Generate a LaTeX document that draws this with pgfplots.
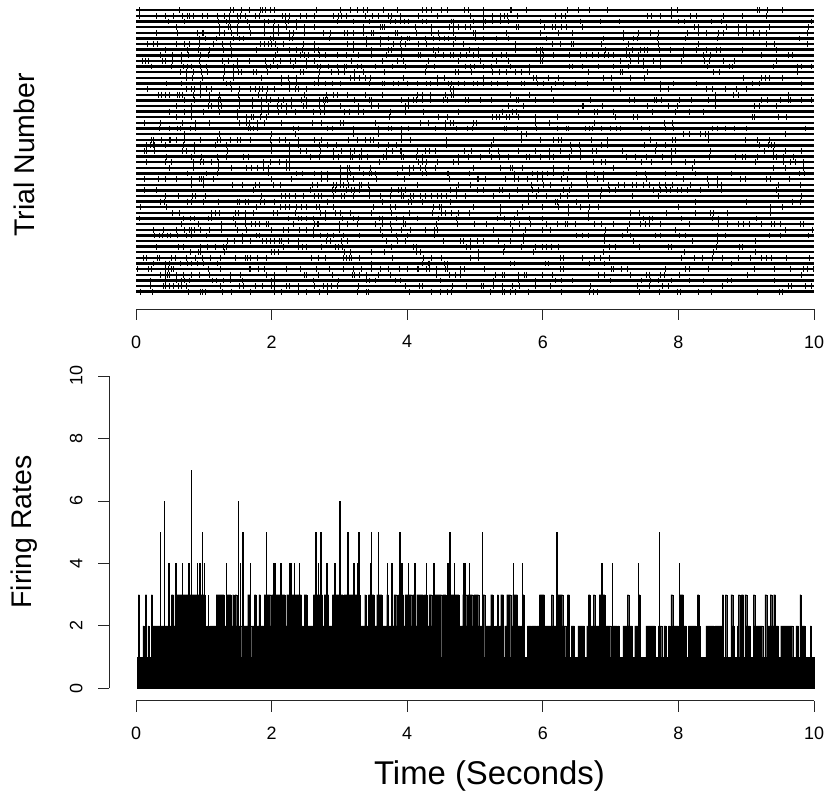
\documentclass[border=0pt]{standalone}
\usepackage{fontspec}
\setmainfont{Liberation Sans}
\usepackage{pgfplots}
\pgfplotsset{compat=1.18}
\pgfplotsset{
  every non boxed x axis/.style={},
  every non boxed y axis/.style={},
  rstyle/.style={
    scale only axis, clip=false, width=678bp,
    xmin=0, xmax=10, xtick={0,2,4,6,8,10},
    axis line style={-, line width=0.8bp, black!85},
    every tick/.style={black!85, line width=0.8bp},
    tick align=outside, major tick length=11bp,
    tick label style={font=\fontsize{18}{18}\selectfont},
    /pgf/number format/assume math mode=true,
    xtick pos=bottom, ytick pos=left,
  },
  sp/.style={only marks, mark=|, mark size=2.9bp, black, mark options={line width=1bp, black}},
}
\begin{document}
\begin{tikzpicture}
\path[use as bounding box] (0,0) rectangle (825bp,794bp);
\begin{axis}[rstyle, at={(136bp,502.3bp)}, anchor=south west, height=281.4bp,
  ymin=1, ymax=51, axis x line=bottom, axis y line=none, axis x line shift=17.3bp,
  xticklabel style={yshift=-12bp}]
\pgfplotsinvokeforeach{1,...,51}{\addplot[black, line width=2.4bp, forget plot] coordinates {(0,#1)(10,#1)};}
\addplot[sp] coordinates {(.05,51)(.64,51)(1.40,51)(1.44,51)(1.55,51)(1.68,51)(1.83,51)(1.86,51)(1.91,51)(1.98,51)(2.04,51)(2.66,51)(3.01,51)(3.16,51)(3.17,51)(3.27,51)(3.36,51)(3.41,51)(3.65,51)(3.85,51)(4.22,51)(4.29,51)(4.36,51)(4.51,51)(4.59,51)(4.85,51)(4.91,51)(5.12,51)(5.52,51)(5.54,51)(5.76,51)(6.36,51)(6.53,51)(6.69,51)(6.95,51)(7.90,51)(7.98,51)(9.16,51)(9.20,51)(9.31,51)(9.53,51)};
\addplot[sp] coordinates {(.05,50)(.30,50)(.43,50)(.55,50)(.69,50)(.76,50)(.79,50)(.85,50)(.98,50)(1.05,50)(1.20,50)(1.31,50)(1.38,50)(1.49,50)(1.54,50)(1.61,50)(1.76,50)(1.82,50)(2.16,50)(2.21,50)(2.26,50)(2.42,50)(2.51,50)(2.63,50)(2.92,50)(2.98,50)(3.03,50)(3.10,50)(3.38,50)(3.49,50)(3.58,50)(3.73,50)(3.77,50)(3.90,50)(4.17,50)(4.44,50)(4.93,50)(5.12,50)(5.26,50)(5.37,50)(5.43,50)(5.48,50)(5.62,50)(6.18,50)(6.27,50)(6.33,50)(7.55,50)(7.61,50)(7.73,50)(7.90,50)(8.18,50)(8.27,50)(8.66,50)(8.94,50)(9.30,50)};
\addplot[sp] coordinates {(.48,49)(.72,49)(1.21,49)(1.34,49)(1.38,49)(1.51,49)(1.64,49)(1.90,49)(1.95,49)(2.04,49)(2.20,49)(2.25,49)(2.37,49)(2.97,49)(3.21,49)(3.44,49)(3.75,49)(3.82,49)(3.90,49)(3.96,49)(4.02,49)(4.22,49)(4.29,49)(4.66,49)(4.68,49)(4.98,49)(5.12,49)(5.15,49)(5.26,49)(5.38,49)(5.49,49)(5.96,49)(6.55,49)(6.85,49)(7.13,49)(8.00,49)(8.09,49)(8.49,49)(8.63,49)(9.96,49)};
\addplot[sp] coordinates {(.59,48)(1.23,48)(1.36,48)(1.40,48)(1.50,48)(1.68,48)(1.90,48)(2.03,48)(2.10,48)(2.22,48)(2.36,48)(2.49,48)(2.64,48)(3.35,48)(3.60,48)(3.64,48)(3.67,48)(4.12,48)(4.36,48)(4.62,48)(4.68,48)(4.76,48)(4.86,48)(4.93,48)(5.12,48)(5.61,48)(5.64,48)(6.03,48)(6.15,48)(6.18,48)(6.28,48)(6.35,48)(6.58,48)(8.23,48)(8.30,48)(8.71,48)(8.89,48)(9.00,48)(9.35,48)(9.92,48)};
\addplot[sp] coordinates {(.30,47)(.61,47)(.90,47)(.98,47)(1.00,47)(1.23,47)(1.31,47)(1.41,47)(1.50,47)(1.69,47)(1.89,47)(2.03,47)(2.10,47)(2.26,47)(2.32,47)(2.49,47)(2.77,47)(2.87,47)(3.08,47)(3.12,47)(3.21,47)(3.35,47)(3.48,47)(3.50,47)(3.82,47)(3.86,47)(4.14,47)(4.36,47)(4.46,47)(4.68,47)(4.98,47)(5.00,47)(5.47,47)(5.96,47)(6.23,47)(6.44,47)(7.19,47)(7.41,47)(7.59,47)(7.71,47)(8.13,47)(8.30,47)(8.42,47)(8.59,47)(8.67,47)(8.89,47)(9.01,47)(9.11,47)(9.20,47)(9.30,47)(9.90,47)};
\addplot[sp] coordinates {(.94,46)(1.02,46)(1.18,46)(1.44,46)(1.53,46)(1.58,46)(1.98,46)(2.03,46)(2.26,46)(2.31,46)(2.85,46)(3.40,46)(3.60,46)(3.73,46)(3.92,46)(4.00,46)(4.03,46)(4.27,46)(4.39,46)(4.48,46)(4.55,46)(4.61,46)(4.71,46)(5.00,46)(5.12,46)(5.32,46)(5.49,46)(6.06,46)(6.90,46)(7.19,46)(7.34,46)(7.39,46)(7.69,46)(8.10,46)(8.57,46)(9.79,46)};
\addplot[sp] coordinates {(.17,45)(.26,45)(.32,45)(.60,45)(.71,45)(.79,45)(.94,45)(1.14,45)(1.27,45)(1.39,45)(1.84,45)(1.90,45)(1.95,45)(2.00,45)(2.06,45)(2.17,45)(2.47,45)(2.63,45)(3.12,45)(3.21,45)(3.40,45)(3.60,45)(3.80,45)(3.90,45)(3.97,45)(4.17,45)(4.29,45)(4.69,45)(4.83,45)(5.59,45)(6.15,45)(6.26,45)(6.43,45)(6.46,45)(6.86,45)(7.27,45)(7.71,45)(8.30,45)(9.30,45)(9.41,45)(9.90,45)};
\addplot[sp] coordinates {(.44,44)(.76,44)(.92,44)(1.09,44)(1.29,44)(1.41,44)(1.77,44)(2.08,44)(2.27,44)(2.36,44)(2.46,44)(2.64,44)(2.69,44)(3.21,44)(3.48,44)(3.73,44)(3.77,44)(3.92,44)(4.39,44)(4.46,44)(4.92,44)(5.05,44)(5.59,44)(5.91,44)(5.96,44)(6.00,44)(6.92,44)(7.24,44)(7.32,44)(7.44,44)(7.50,44)(7.55,44)(7.72,44)(7.88,44)(8.08,44)(8.27,44)(8.42,44)(8.56,44)(8.62,44)(8.94,44)(9.45,44)};
\addplot[sp] coordinates {(.36,43)(.54,43)(.67,43)(.77,43)(.95,43)(1.07,43)(1.41,43)(2.06,43)(2.42,43)(2.49,43)(2.54,43)(2.71,43)(2.79,43)(2.97,43)(3.10,43)(3.28,43)(3.48,43)(3.70,43)(3.92,43)(4.17,43)(4.20,43)(4.41,43)(4.53,43)(4.64,43)(4.69,43)(4.78,43)(4.88,43)(4.98,43)(5.05,43)(5.26,43)(5.39,43)(5.47,43)(5.96,43)(6.01,43)(6.16,43)(6.40,43)(6.56,43)(6.65,43)(6.74,43)(6.82,43)(6.91,43)(6.97,43)(7.04,43)(7.23,43)(7.28,43)(7.41,43)(8.07,43)(8.37,43)(8.47,43)(9.23,43)(9.63,43)(9.69,43)};
\addplot[sp] coordinates {(.10,42)(.14,42)(.19,42)(.39,42)(.43,42)(.54,42)(.67,42)(.94,42)(1.28,42)(1.37,42)(1.50,42)(1.68,42)(1.91,42)(2.03,42)(2.13,42)(2.28,42)(2.35,42)(2.52,42)(2.64,42)(3.18,42)(3.63,42)(3.86,42)(3.95,42)(4.31,42)(4.76,42)(5.08,42)(5.31,42)(5.49,42)(5.96,42)(6.00,42)(7.15,42)(7.29,42)(7.41,42)(7.49,42)(7.63,42)(7.73,42)(8.05,42)(8.38,42)(8.46,42)(8.67,42)(8.82,42)(9.45,42)};
\addplot[sp] coordinates {(.23,41)(.53,41)(.70,41)(.76,41)(.82,41)(.95,41)(1.04,41)(1.31,41)(1.44,41)(1.50,41)(1.92,41)(1.98,41)(2.08,41)(2.32,41)(2.52,41)(2.67,41)(2.72,41)(2.84,41)(2.97,41)(3.08,41)(3.11,41)(3.26,41)(3.32,41)(3.53,41)(3.79,41)(3.97,41)(4.29,41)(4.40,41)(4.86,41)(4.93,41)(4.99,41)(5.12,41)(5.25,41)(5.52,41)(5.81,41)(6.40,41)(6.44,41)(6.59,41)(6.82,41)(7.05,41)(7.27,41)(7.49,41)(7.73,41)(8.43,41)(8.76,41)(8.80,41)(9.40,41)(9.75,41)(9.81,41)(9.97,41)};
\addplot[sp] coordinates {(.65,40)(.75,40)(.85,40)(.97,40)(1.05,40)(1.30,40)(1.44,40)(1.51,40)(1.56,40)(1.74,40)(1.78,40)(1.94,40)(2.42,40)(2.47,40)(2.71,40)(2.89,40)(2.99,40)(3.08,40)(3.23,40)(3.35,40)(3.66,40)(4.27,40)(4.71,40)(4.76,40)(4.95,40)(5.26,40)(5.36,40)(5.47,40)(5.59,40)(5.69,40)(5.81,40)(6.67,40)(7.14,40)(7.18,40)(7.54,40)(8.52,40)(8.61,40)(9.75,40)};
\addplot[sp] coordinates {(.74,39)(.84,39)(.98,39)(1.29,39)(1.44,39)(1.85,39)(2.15,39)(2.25,39)(2.37,39)(2.69,39)(3.17,39)(3.22,39)(3.30,39)(3.38,39)(3.46,39)(3.95,39)(4.44,39)(4.55,39)(5.12,39)(5.86,39)(5.91,39)(6.08,39)(6.23,39)(6.90,39)(7.02,39)(7.29,39)(7.50,39)(8.96,39)(9.23,39)(9.28,39)(9.35,39)(9.53,39)};
\addplot[sp] coordinates {(.45,38)(.67,38)(.95,38)(1.33,38)(1.39,38)(2.15,38)(2.27,38)(2.37,38)(2.64,38)(2.69,38)(2.79,38)(2.90,38)(3.01,38)(3.44,38)(3.63,38)(3.66,38)(3.80,38)(3.87,38)(4.00,38)(4.15,38)(4.29,38)(4.35,38)(4.44,38)(4.61,38)(4.66,38)(4.76,38)(4.84,38)(4.98,38)(5.04,38)(5.12,38)(5.25,38)(5.33,38)(5.48,38)(5.68,38)(5.73,38)(5.92,38)(6.01,38)(6.18,38)(6.30,38)(6.48,38)(6.66,38)(7.73,38)(7.93,38)(8.27,38)(9.09,38)(9.20,38)(9.81,38)};
\addplot[sp] coordinates {(.17,37)(.75,37)(.82,37)(.87,37)(.95,37)(1.04,37)(1.11,37)(1.41,37)(1.53,37)(1.69,37)(1.76,37)(1.82,37)(1.86,37)(1.94,37)(2.04,37)(2.27,37)(2.35,37)(2.40,37)(2.52,37)(4.64,37)(4.68,37)(6.13,37)(7.04,37)(7.15,37)(7.73,37)(7.86,37)(8.42,37)(8.50,37)(8.69,37)(8.86,37)(9.00,37)};
\addplot[sp] coordinates {(.33,36)(.38,36)(.43,36)(.50,36)(.61,36)(.64,36)(.69,36)(.85,36)(.95,36)(1.08,36)(1.23,36)(1.51,36)(1.80,36)(1.93,36)(2.49,36)(2.81,36)(2.92,36)(2.97,36)(3.12,36)(3.38,36)(3.63,36)(4.15,36)(4.23,36)(4.35,36)(4.56,36)(4.66,36)(4.68,36)(5.52,36)(5.81,36)(8.54,36)(8.81,36)(8.89,36)(9.62,36)};
\addplot[sp] coordinates {(.71,35)(.86,35)(1.09,35)(1.22,35)(1.25,35)(1.53,35)(1.72,35)(1.85,35)(1.93,35)(1.98,35)(2.10,35)(2.17,35)(2.30,35)(2.44,35)(2.52,35)(2.71,35)(2.76,35)(2.79,35)(2.82,35)(3.23,35)(3.44,35)(3.48,35)(3.92,35)(4.02,35)(4.09,35)(4.14,35)(4.23,35)(4.35,35)(4.54,35)(4.60,35)(4.86,35)(4.91,35)(5.08,35)(5.25,35)(5.61,35)(5.64,35)(5.89,35)(6.16,35)(6.71,35)(7.28,35)(7.35,35)(7.65,35)(7.67,35)(7.75,35)(8.02,35)(8.20,35)(8.44,35)(8.54,35)(9.22,35)(9.31,35)(9.50,35)(9.63,35)(9.66,35)(9.81,35)(9.97,35)};
\addplot[sp] coordinates {(.60,34)(.82,34)(1.07,34)(1.12,34)(1.22,34)(1.26,34)(1.53,34)(1.72,34)(1.85,34)(1.95,34)(2.08,34)(2.15,34)(2.22,34)(2.30,34)(2.47,34)(2.52,34)(2.71,34)(2.78,34)(3.01,34)(3.28,34)(3.48,34)(3.58,34)(3.97,34)(4.02,34)(5.49,34)(5.71,34)(6.58,34)(6.60,34)(6.88,34)(7.55,34)(7.86,34)(7.99,34)(8.54,34)(9.12,34)(9.19,34)(9.45,34)};
\addplot[sp] coordinates {(.49,33)(.72,33)(.82,33)(.99,33)(1.23,33)(1.50,33)(1.85,33)(1.95,33)(2.10,33)(2.22,33)(2.35,33)(2.62,33)(2.72,33)(2.78,33)(3.08,33)(3.15,33)(3.28,33)(3.35,33)(3.76,33)(3.98,33)(4.24,33)(4.76,33)(5.40,33)(5.55,33)(5.61,33)(6.53,33)(6.76,33)(6.81,33)(7.04,33)(7.62,33)(7.95,33)(8.17,33)(8.37,33)};
\addplot[sp] coordinates {(.60,32)(.82,32)(1.49,32)(1.63,32)(1.71,32)(1.73,32)(1.83,32)(1.93,32)(3.74,32)(4.46,32)(4.59,32)(5.26,32)(5.31,32)(5.36,32)(5.47,32)(5.51,32)(5.64,32)(5.89,32)(6.22,32)(7.07,32)(7.34,32)(7.39,32)(9.09,32)(9.12,32)(9.48,32)(9.59,32)};
\addplot[sp] coordinates {(.12,31)(.36,31)(.68,31)(.88,31)(1.08,31)(1.53,31)(1.63,31)(1.68,31)(1.79,31)(1.90,31)(2.15,31)(2.61,31)(2.74,31)(3.01,31)(3.06,31)(3.53,31)(4.19,31)(4.31,31)(4.56,31)(4.64,31)(4.68,31)(4.98,31)(5.02,31)(5.89,31)(6.10,31)(6.76,31)(7.79,31)(7.92,31)};
\addplot[sp] coordinates {(.34,30)(.49,30)(.61,30)(.65,30)(.81,30)(.88,30)(1.66,30)(1.69,30)(1.74,30)(1.79,30)(2.32,30)(2.40,30)(2.82,30)(2.90,30)(3.21,30)(3.58,30)(3.73,30)(3.77,30)(3.91,30)(4.02,30)(4.41,30)(4.56,30)(4.73,30)(4.89,30)(4.97,30)(5.43,30)(5.47,30)(5.62,30)(5.90,30)(6.21,30)(6.35,30)(6.38,30)(6.63,30)(6.69,30)(6.74,30)(6.86,30)(7.00,30)(7.08,30)(7.15,30)(7.46,30)(7.58,30)(7.81,30)(7.93,30)(8.50,30)(8.58,30)(8.70,30)(8.83,30)(9.01,30)(9.87,30)};
\addplot[sp] coordinates {(.72,29)(1.23,29)(2.00,29)(2.35,29)(3.21,29)(3.58,29)(3.92,29)(5.69,29)(5.76,29)(8.07,29)(8.16,29)(8.33,29)(8.40,29)(8.45,29)(9.58,29)};
\addplot[sp] coordinates {(.23,28)(.26,28)(.38,28)(.49,28)(.51,28)(.59,28)(.72,28)(.95,28)(1.20,28)(1.25,28)(1.40,28)(1.50,28)(1.54,28)(1.69,28)(1.98,28)(2.12,28)(2.20,28)(2.40,28)(2.64,28)(2.74,28)(3.13,28)(3.27,28)(3.38,28)(3.46,28)(3.51,28)(3.92,28)(4.05,28)(4.58,28)(5.28,28)(5.68,28)(5.69,28)(5.96,28)(6.16,28)(6.23,28)(6.28,28)(6.72,28)(6.95,28)(7.59,28)(7.92,28)(7.95,28)(8.45,28)(8.99,28)(9.16,28)(9.35,28)};
\addplot[sp] coordinates {(.15,27)(.22,27)(.26,27)(.28,27)(.43,27)(.70,27)(.86,27)(1.17,27)(1.34,27)(2.00,27)(2.26,27)(2.40,27)(2.71,27)(2.82,27)(2.95,27)(3.58,27)(3.73,27)(3.84,27)(4.58,27)(5.25,27)(6.41,27)(6.54,27)(6.87,27)(6.95,27)(7.50,27)(7.67,27)(7.81,27)(9.19,27)(9.33,27)(9.37,27)(9.41,27)};
\addplot[sp] coordinates {(.12,26)(.15,26)(.27,26)(.69,26)(.74,26)(.86,26)(1.35,26)(2.00,26)(2.26,26)(2.42,26)(2.51,26)(2.72,26)(2.92,26)(3.03,26)(3.16,26)(3.23,26)(3.33,26)(3.70,26)(3.79,26)(3.90,26)(3.92,26)(4.15,26)(4.27,26)(4.33,26)(4.41,26)(4.84,26)(4.95,26)(5.22,26)(5.35,26)(5.64,26)(5.89,26)(6.10,26)(6.26,26)(6.43,26)(6.56,26)(6.74,26)(6.79,26)(7.18,26)(7.66,26)(7.90,26)(7.95,26)(8.48,26)(9.27,26)(9.40,26)(9.58,26)(9.81,26)};
\addplot[sp] coordinates {(.45,25)(.82,25)(.97,25)(1.20,25)(1.34,25)(1.58,25)(1.66,25)(2.26,25)(2.57,25)(2.71,25)(2.92,25)(2.98,25)(3.16,25)(3.20,25)(3.30,25)(3.33,25)(3.41,25)(3.65,25)(3.70,25)(3.91,25)(3.94,25)(4.14,25)(4.22,25)(4.76,25)(4.91,25)(5.08,25)(5.25,25)(5.36,25)(5.49,25)(5.76,25)(5.81,25)(5.96,25)(6.10,25)(6.16,25)(6.40,25)(6.55,25)(7.23,25)(7.36,25)(7.53,25)(7.76,25)(7.90,25)(8.46,25)(8.84,25)(8.94,25)(8.99,25)(9.16,25)(9.40,25)(9.45,25)(9.55,25)(9.70,25)};
\addplot[sp] coordinates {(.16,24)(.44,24)(.53,24)(.85,24)(.95,24)(.99,24)(1.12,24)(1.22,24)(1.88,24)(1.98,24)(2.11,24)(2.22,24)(2.26,24)(3.59,24)(4.17,24)(4.22,24)(4.28,24)(4.44,24)(4.68,24)(4.76,24)(6.75,24)(6.87,24)(6.93,24)(7.46,24)(7.61,24)(7.90,24)(8.10,24)(8.23,24)(9.13,24)(9.55,24)(9.65,24)(9.72,24)(9.84,24)};
\addplot[sp] coordinates {(.49,23)(.85,23)(1.22,23)(1.41,23)(1.63,23)(1.71,23)(1.79,23)(1.88,23)(1.95,23)(2.22,23)(2.27,23)(3.02,23)(3.12,23)(3.15,23)(3.30,23)(3.46,23)(3.93,23)(4.03,23)(4.10,23)(4.19,23)(4.27,23)(4.41,23)(4.98,23)(5.37,23)(5.52,23)(5.56,23)(5.70,23)(6.16,23)(6.38,23)(7.04,23)(8.21,23)(9.40,23)(9.58,23)(9.85,23)};
\addplot[sp] coordinates {(.76,22)(1.04,22)(1.20,22)(1.95,22)(2.37,22)(2.46,22)(2.63,22)(2.73,22)(2.82,22)(3.01,22)(3.12,22)(3.17,22)(3.35,22)(3.44,22)(3.48,22)(3.53,22)(3.86,22)(4.03,22)(4.22,22)(4.28,22)(4.59,22)(4.61,22)(4.92,22)(5.58,22)(5.85,22)(5.92,22)(5.99,22)(6.07,22)(6.16,22)(6.30,22)(6.64,22)(6.76,22)(6.89,22)(7.38,22)(7.51,22)(7.81,22)(7.97,22)(8.25,22)(8.78,22)(9.78,22)(9.86,22)};
\addplot[sp] coordinates {(.12,21)(.33,21)(.43,21)(.59,21)(.82,21)(.93,21)(.97,21)(1.00,21)(1.15,21)(2.00,21)(2.30,21)(2.73,21)(2.82,21)(3.02,21)(3.12,21)(3.21,21)(3.55,21)(3.96,21)(4.62,21)(5.03,21)(5.05,21)(5.15,21)(5.45,21)(5.58,21)(5.64,21)(5.77,21)(5.92,21)(6.00,21)(6.28,21)(6.36,21)(6.65,21)(6.80,21)(6.89,21)(7.53,21)(8.07,21)(8.43,21)(8.57,21)(8.91,21)(8.99,21)(9.30,21)(9.36,21)(9.64,21)};
\addplot[sp] coordinates {(.82,20)(1.00,20)(1.43,20)(1.57,20)(1.76,20)(1.82,20)(2.03,20)(2.13,20)(2.61,20)(2.68,20)(2.92,20)(2.95,20)(3.02,20)(3.06,20)(3.13,20)(3.30,20)(3.33,20)(3.43,20)(4.15,20)(4.76,20)(4.93,20)(5.84,20)(6.01,20)(6.12,20)(6.43,20)(6.66,20)(6.97,20)(7.12,20)(7.21,20)(7.33,20)(7.38,20)(7.48,20)(7.58,20)(7.72,20)(7.81,20)(7.92,20)(8.18,20)(8.45,20)(8.57,20)(8.64,20)(9.48,20)(9.80,20)};
\addplot[sp] coordinates {(.12,19)(.30,19)(1.74,19)(2.58,19)(2.90,19)(2.94,19)(3.11,19)(3.18,19)(3.23,19)(3.30,19)(3.45,19)(3.77,19)(3.87,19)(3.91,19)(3.97,19)(4.64,19)(4.72,19)(5.03,19)(5.12,19)(5.36,19)(5.41,19)(5.62,19)(5.85,19)(5.94,19)(6.31,19)(6.40,19)(6.86,19)(6.98,19)(7.07,19)(7.64,19)(7.73,19)(7.83,19)(7.88,19)(7.98,19)(8.04,19)(8.13,19)(8.33,19)(8.64,19)(9.44,19)};
\addplot[sp] coordinates {(.43,18)(.62,18)(.84,18)(.88,18)(1.02,18)(1.85,18)(2.14,18)(2.20,18)(2.27,18)(2.35,18)(2.47,18)(2.63,18)(2.69,18)(2.74,18)(2.92,18)(3.03,18)(3.08,18)(3.21,18)(3.44,18)(3.61,18)(3.75,18)(3.91,18)(3.95,18)(4.05,18)(4.09,18)(4.19,18)(4.27,18)(4.36,18)(4.44,18)(4.50,18)(4.58,18)(4.73,18)(4.86,18)(5.28,18)(5.51,18)(5.79,18)(5.90,18)(6.06,18)(6.26,18)(6.36,18)(6.67,18)(6.85,18)(7.32,18)(7.71,18)(9.48,18)(9.81,18)};
\addplot[sp] coordinates {(.36,17)(.42,17)(.76,17)(.82,17)(.99,17)(1.22,17)(1.49,17)(1.53,17)(1.61,17)(1.66,17)(1.83,17)(1.90,17)(2.04,17)(2.82,17)(3.63,17)(4.02,17)(4.07,17)(4.23,17)(4.64,17)(5.79,17)(6.18,17)(6.22,17)(6.50,17)(8.25,17)(9.00,17)(9.68,17)(9.80,17)};
\addplot[sp] coordinates {(.07,16)(.45,16)(1.78,16)(2.13,16)(2.20,16)(2.26,16)(2.37,16)(2.44,16)(2.52,16)(2.66,16)(2.71,16)(2.92,16)(3.50,16)(3.76,16)(3.82,16)(4.39,16)(4.48,16)(4.51,16)(4.98,16)(5.37,16)(5.70,16)(5.99,16)(6.23,16)(6.38,16)(6.55,16)(6.69,16)(6.82,16)(8.00,16)(9.36,16)(9.53,16)};
\addplot[sp] coordinates {(.54,15)(.64,15)(1.12,15)(1.17,15)(1.23,15)(1.47,15)(1.51,15)(1.62,15)(1.74,15)(2.03,15)(2.09,15)(2.35,15)(2.72,15)(2.79,15)(2.94,15)(3.01,15)(3.17,15)(3.48,15)(3.77,15)(4.03,15)(4.38,15)(4.51,15)(4.56,15)(4.66,15)(4.76,15)(4.92,15)(5.38,15)(5.63,15)(6.38,15)(6.67,15)(7.29,15)(7.43,15)(7.83,15)(8.25,15)(8.48,15)(8.52,15)(8.72,15)(9.36,15)};
\addplot[sp] coordinates {(.05,14)(.70,14)(.80,14)(.86,14)(1.07,14)(1.12,14)(1.44,14)(1.61,14)(2.25,14)(2.40,14)(2.44,14)(2.51,14)(2.62,14)(2.80,14)(3.05,14)(3.21,14)(3.28,14)(3.59,14)(3.64,14)(3.84,14)(3.94,14)(4.15,14)(4.46,14)(4.72,14)(5.33,14)(5.43,14)(5.58,14)(5.81,14)(5.99,14)(6.67,14)(7.48,14)(7.58,14)(7.62,14)(8.04,14)(8.51,14)(8.59,14)(9.15,14)};
\addplot[sp] coordinates {(.67,13)(.92,13)(1.26,13)(1.47,13)(1.61,13)(1.71,13)(1.76,13)(1.82,13)(1.92,13)(1.95,13)(2.32,13)(2.64,13)(2.67,13)(2.69,13)(3.00,13)(3.12,13)(3.27,13)(3.53,13)(3.63,13)(3.76,13)(3.95,13)(3.98,13)(4.43,13)(4.74,13)(4.99,13)(5.17,13)(5.53,13)(5.65,13)(5.82,13)(6.06,13)(6.22,13)(6.33,13)(6.36,13)(6.48,13)(6.76,13)(6.87,13)(7.05,13)(7.28,13)(7.44,13)(7.51,13)(7.58,13)(7.74,13)(8.17,13)(8.59,13)(8.72,13)(8.89,13)(8.96,13)(9.05,13)(9.23,13)(9.37,13)(9.41,13)(9.51,13)(9.80,13)(9.85,13)};
\addplot[sp] coordinates {(.26,12)(.40,12)(.59,12)(.72,12)(.79,12)(.82,12)(.87,12)(.95,12)(1.09,12)(1.26,12)(1.49,12)(1.63,12)(2.00,12)(2.18,12)(2.25,12)(2.41,12)(2.52,12)(2.62,12)(3.00,12)(3.60,12)(3.77,12)(3.92,12)(4.05,12)(4.27,12)(4.40,12)(4.45,12)(5.27,12)(5.56,12)(5.74,12)(6.00,12)(6.12,12)(6.92,12)(7.25,12)(7.95,12)(9.58,12)(9.98,12)};
\addplot[sp] coordinates {(.28,11)(.35,11)(.39,11)(.46,11)(.51,11)(.61,11)(.75,11)(.82,11)(1.04,11)(1.57,11)(1.77,11)(1.82,11)(2.62,11)(2.72,11)(2.82,11)(2.91,11)(3.06,11)(3.30,11)(3.63,11)(3.84,11)(4.00,11)(4.40,11)(5.71,11)(6.49,11)(6.58,11)(6.67,11)(6.91,11)(7.18,11)(7.29,11)(7.66,11)(7.74,11)(8.02,11)(8.11,11)(8.58,11)(8.70,11)(9.35,11)(9.51,11)(9.92,11)};
\addplot[sp] coordinates {(1.35,10)(1.46,10)(1.57,10)(1.69,10)(1.86,10)(1.92,10)(1.99,10)(2.05,10)(2.11,10)(2.15,10)(2.25,10)(2.40,10)(2.81,10)(2.87,10)(3.03,10)(3.12,10)(3.70,10)(3.86,10)(3.98,10)(4.54,10)(4.79,10)(4.83,10)(4.93,10)(5.03,10)(5.12,10)(5.35,10)(5.53,10)(5.71,10)(6.91,10)(7.34,10)(8.21,10)(8.57,10)(9.13,10)};
\addplot[sp] coordinates {(.30,9)(.62,9)(.70,9)(.95,9)(1.05,9)(1.17,9)(1.29,9)(1.33,9)(2.17,9)(2.40,9)(2.46,9)(2.52,9)(2.74,9)(2.94,9)(2.98,9)(3.05,9)(3.77,9)(4.09,9)(4.14,9)(4.88,9)(4.93,9)(5.43,9)(5.69,9)(5.89,9)(6.00,9)(6.06,9)(6.13,9)(6.23,9)(6.99,9)(7.07,9)(7.42,9)(7.86,9)(7.90,9)(8.56,9)(8.90,9)(8.94,9)};
\addplot[sp] coordinates {(.80,8)(.92,8)(.95,8)(1.31,8)(2.00,8)(2.05,8)(2.10,8)(3.08,8)(3.16,8)(3.48,8)(3.66,8)(4.14,8)(4.19,8)(5.05,8)(5.42,8)(5.87,8)(6.89,8)(8.09,8)(8.52,8)(9.13,8)};
\addplot[sp] coordinates {(.11,7)(.16,7)(.31,7)(.35,7)(.53,7)(.58,7)(.75,7)(.88,7)(.98,7)(1.10,7)(1.24,7)(1.47,7)(1.61,7)(1.64,7)(1.69,7)(1.79,7)(1.93,7)(2.59,7)(2.69,7)(2.80,7)(3.06,7)(3.10,7)(3.15,7)(3.18,7)(3.30,7)(3.79,7)(4.24,7)(4.36,7)(4.50,7)(4.93,7)(5.05,7)(6.26,7)(6.31,7)(6.59,7)(6.76,7)(6.85,7)(6.99,7)(8.04,7)(8.23,7)(8.36,7)(8.50,7)(8.65,7)(8.88,7)(9.07,7)(9.23,7)(9.30,7)(9.37,7)(9.60,7)(9.94,7)};
\addplot[sp] coordinates {(.26,6)(.43,6)(.50,6)(.66,6)(.76,6)(.82,6)(.90,6)(.99,6)(1.20,6)(3.48,6)(4.22,6)(4.31,6)(4.33,6)(4.55,6)(4.59,6)(5.52,6)(5.58,6)(6.04,6)(6.08,6)(6.69,6)(6.91,6)(8.79,6)};
\addplot[sp] coordinates {(.02,5)(.18,5)(.23,5)(.44,5)(.48,5)(.53,5)(.55,5)(1.07,5)(1.25,5)(1.67,5)(1.69,5)(1.80,5)(1.90,5)(2.22,5)(2.43,5)(2.66,5)(2.85,5)(3.06,5)(3.21,5)(3.32,5)(3.48,5)(3.60,5)(3.73,5)(3.89,5)(4.00,5)(4.15,5)(4.17,5)(4.29,5)(4.33,5)(4.43,5)(4.56,5)(4.59,5)(4.78,5)(4.84,5)(5.14,5)(6.26,5)(6.31,5)(7.02,5)(7.05,5)(7.16,5)(7.25,5)(7.81,5)(8.10,5)(8.16,5)(8.45,5)(9.12,5)(9.41,5)(9.65,5)(9.84,5)(9.91,5)(9.99,5)};
\addplot[sp] coordinates {(.36,4)(.43,4)(.46,4)(.50,4)(.60,4)(.70,4)(.82,4)(.93,4)(1.08,4)(1.39,4)(1.54,4)(1.92,4)(2.04,4)(2.49,4)(2.52,4)(2.69,4)(2.90,4)(3.20,4)(3.22,4)(3.30,4)(3.40,4)(3.58,4)(3.76,4)(4.43,4)(4.62,4)(4.71,4)(4.78,4)(5.30,4)(5.41,4)(5.43,4)(5.64,4)(5.73,4)(5.76,4)(5.99,4)(6.15,4)(6.82,4)(6.91,4)(7.29,4)(7.53,4)(7.58,4)(7.74,4)(7.79,4)(8.02,4)(9.02,4)(9.81,4)};
\addplot[sp] coordinates {(.22,3)(.43,3)(.59,3)(.67,3)(.72,3)(.79,3)(1.13,3)(1.18,3)(1.29,3)(1.39,3)(1.57,3)(2.00,3)(2.05,3)(2.62,3)(2.98,3)(3.40,3)(3.45,3)(3.53,3)(3.82,3)(3.90,3)(4.49,3)(5.28,3)(5.64,3)(5.89,3)(6.18,3)(6.28,3)(6.44,3)(7.00,3)(7.46,3)(7.59,3)(7.71,3)(7.90,3)(8.17,3)(8.37,3)(8.72,3)(8.79,3)(9.41,3)};
\addplot[sp] coordinates {(.22,2)(.40,2)(.43,2)(.50,2)(.55,2)(.62,2)(.67,2)(.75,2)(1.24,2)(1.53,2)(1.59,2)(1.76,2)(1.87,2)(2.00,2)(2.05,2)(2.22,2)(2.26,2)(2.40,2)(2.63,2)(2.76,2)(2.82,2)(2.89,2)(2.97,2)(3.28,2)(3.97,2)(4.18,2)(4.22,2)(4.67,2)(4.87,2)(5.10,2)(5.12,2)(5.28,2)(5.40,2)(5.55,2)(5.66,2)(5.89,2)(6.11,2)(6.71,2)(7.39,2)(7.58,2)(7.77,2)(7.86,2)(8.65,2)(9.62,2)(9.67,2)(9.87,2)(9.97,2)};
\addplot[sp] coordinates {(.07,1)(.24,1)(.77,1)(.95,1)(.98,1)(1.02,1)(1.27,1)(1.41,1)(1.69,1)(2.04,1)(2.15,1)(2.40,1)(2.52,1)(2.71,1)(2.82,1)(3.26,1)(3.40,1)(3.43,1)(4.03,1)(4.36,1)(4.49,1)(4.60,1)(4.66,1)(5.23,1)(5.40,1)(5.43,1)(5.53,1)(5.59,1)(5.79,1)(6.28,1)(6.69,1)(6.75,1)(6.81,1)(7.42,1)(7.72,1)(7.99,1)(8.03,1)(8.30,1)(8.49,1)(9.16,1)(9.49,1)(9.53,1)};
\end{axis}
\begin{axis}[rstyle, at={(136bp,105.7bp)}, anchor=south west, height=312.3bp,
  ymin=0, ymax=10, ytick={0,2,4,6,8,10},
  axis lines=left, axis x line shift=12.5bp, axis y line shift=27bp,
  xticklabel style={yshift=-12bp},
  yticklabel style={rotate=90, anchor=south, yshift=12bp}]
\addplot[const plot, fill=black, draw=black, line width=0.2bp] coordinates {(.02,1)(.035,3)(.05,1)(.10,2)(.115,1)(.14,3)(.155,1)(.175,2)(.19,1)(.225,3)(.24,2)(.52,3)(.55,2)(.575,3)(1.02,2)(1.03,1)(1.045,2)(1.075,1)(1.09,2)(1.18,3)(1.30,2)(1.345,3)(1.40,2)(1.425,3)(1.44,2)(1.46,3)(1.485,2)(1.558,1)(1.572,2)(1.647,3)(1.69,2)(1.706,1)(1.715,2)(1.745,3)(1.77,1)(1.79,2)(1.814,3)(1.835,1)(1.845,2)(1.888,3)(1.986,2)(2.0,3)(2.2,2)(2.222,3)(2.44,2)(2.468,1)(2.478,3)(2.52,2)(2.615,3)(2.75,2)(2.773,3)(2.84,2)(2.896,3)(3.05,2)(3.068,3)(3.215,2)(3.23,3)(3.30,2)(3.372,3)(3.387,2)(3.426,3)(3.51,2)(3.549,3)(3.628,2)(3.677,1)(3.687,2)(3.697,3)(3.721,2)(3.805,3)(3.844,2)(3.869,3)(3.943,2)(3.967,3)(4.066,2)(4.08,3)(4.105,2)(4.14,3)(4.238,2)(4.253,3)(4.287,2)(4.321,3)(4.36,2)(4.41,3)(4.508,1)(4.523,3)(4.572,2)(4.592,3)(4.764,2)(4.818,3)(4.877,2)(4.892,3)(4.966,2)(4.985,3)(5.054,2)(5.113,3)(5.143,1)(5.162,2)(5.231,3)(5.265,2)(5.28,1)(5.30,2)(5.329,3)(5.344,1)(5.359,2)(5.378,3)(5.418,1)(5.437,2)(5.467,3)(5.526,1)(5.541,2)(5.555,3)(5.624,2)(5.664,1)(5.678,2)(5.703,3)(5.722,1)(5.771,2)(5.83,1)(5.84,2)(5.90,1)(5.91,2)(5.948,3)(6.022,2)(6.125,3)(6.145,2)(6.204,3)(6.293,2)(6.337,1)(6.352,2)(6.362,3)(6.391,1)(6.416,2)(6.465,1)(6.519,2)(6.612,1)(6.646,2)(6.671,3)(6.695,2)(6.745,3)(6.765,2)(6.83,3)(6.917,2)(7.0,1)(7.02,2)(7.1,1)(7.11,2)(7.128,1)(7.182,2)(7.246,3)(7.266,2)(7.32,1)(7.354,2)(7.408,3)(7.433,1)(7.521,2)(7.654,1)(7.703,2)(7.753,1)(7.787,2)(7.816,1)(7.851,2)(7.875,1)(7.89,3)(7.915,2)(7.999,1)(8.013,3)(8.073,2)(8.112,1)(8.146,2)(8.259,1)(8.279,3)(8.303,2)(8.318,1)(8.406,2)(8.525,1)(8.54,2)(8.648,3)(8.662,1)(8.692,3)(8.711,1)(8.775,3)(8.80,2)(8.82,1)(8.869,2)(8.883,3)(8.903,1)(8.928,3)(8.957,1)(8.982,3)(9.006,2)(9.056,1)(9.105,3)(9.124,2)(9.243,1)(9.277,3)(9.302,1)(9.316,2)(9.351,3)(9.375,2)(9.405,3)(9.429,2)(9.473,1)(9.508,2)(9.685,1)(9.734,2)(9.769,1)(9.793,3)(9.808,2)(9.867,1)(9.941,2)(9.96,1)(10.0,1)} \closedcycle;
\addplot[ycomb, black, line width=1.3bp, no markers] coordinates {(.364,5)(.423,6)(.487,4)(.59,4)(.688,4)(.78,4)(.82,7)(.905,4)(.944,4)(.983,5)(1.008,4)(1.067,3)(1.337,4)(1.386,3)(1.514,6)(1.544,4)(1.578,5)(1.691,4)(1.755,3)(1.824,3)(1.927,5)(2.025,4)(2.05,4)(2.138,4)(2.261,4)(2.285,4)(2.34,4)(2.409,4)(2.655,5)(2.689,4)(2.728,5)(2.817,4)(2.935,4)(3.009,6)(3.117,5)(3.13,5)(3.215,4)(3.264,4)(3.289,5)(3.46,4)(3.476,5)(3.574,5)(3.711,4)(3.776,4)(3.884,4)(3.894,5)(3.92,4)(3.933,4)(4.016,4)(4.115,4)(4.287,4)(4.395,4)(4.6,4)(4.63,5)(4.7,4)(4.837,4)(4.857,4)(4.916,4)(5.113,5)(5.565,4)(5.698,4)(6.209,5)(6.873,4)(7.03,4)(7.413,4)(7.723,5)(8.013,4)};
\end{axis}
\node[rotate=90, font=\fontsize{28.5}{28.5}\selectfont] at (24bp,639bp) {Trial Number};
\node[rotate=90, font=\fontsize{28.5}{28.5}\selectfont] at (24bp,262bp) {Firing Rates};
\node[font=\fontsize{33}{33}\selectfont] at (489.5bp,18bp) {Time (Seconds)};
\end{tikzpicture}
\end{document}
